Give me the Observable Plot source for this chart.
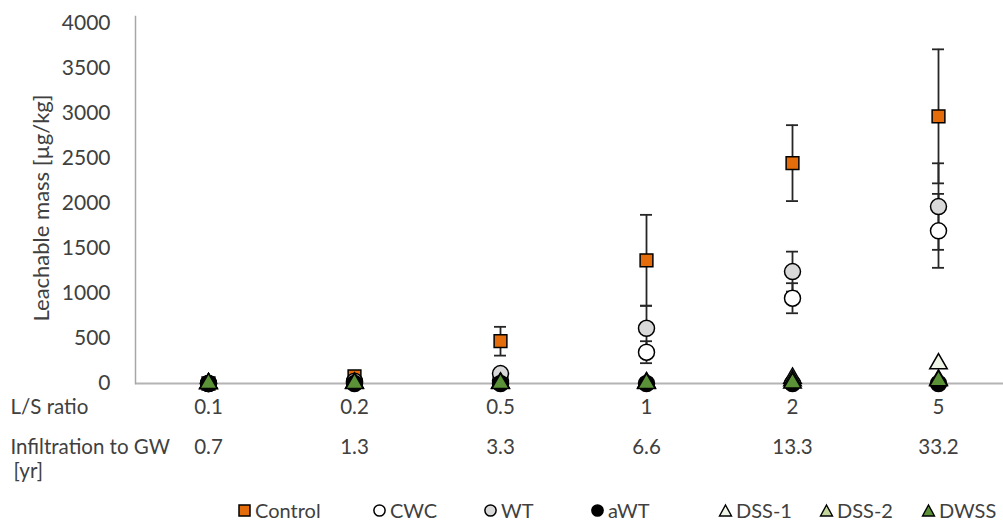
<!DOCTYPE html>
<html>
<head>
<meta charset="utf-8">
<script src="https://cdn.jsdelivr.net/npm/d3@7"></script>
<script src="https://cdn.jsdelivr.net/npm/@observablehq/plot@0.6"></script>
<style>
  body { margin: 0; background: #fff; overflow: hidden; font-family: Lato, "Open Sans", sans-serif; color: #404040; }
  #legend { position: relative; height: 30px; font-size: 20px; }
  .item { position: absolute; top: 0; display: flex; align-items: center; height: 30px; white-space: nowrap; }
  .item svg { margin-right: 3px; }
</style>
</head>
<body>
<div id="chart"></div>
<div id="legend"></div>
<script>
// ---- data ----
const categories = ["0.1", "0.2", "0.5", "1", "2", "5"];          // L/S ratio
const infiltration = ["0.7", "1.3", "3.3", "6.6", "13.3", "33.2"]; // Infiltration to GW [yr]
const yTicks = [0, 500, 1000, 1500, 2000, 2500, 3000, 3500, 4000];
const seriesNames = ["Control", "CWC", "WT", "aWT", "DSS-1", "DSS-2", "DWSS"];

const control    = [0, 80, 470, 1370, 2450, 2970];
const controlErr = [0, 0, 160, 505, 422, 745];
const cwc        = [0, 15, 30, 348, 948, 1697];
const cwcErr     = [0, 0, 0, 122, 167, 411];
const wt         = [0, 25, 110, 614, 1244, 1967];
const wtErr      = [0, 0, 0, 250, 222, 481];
const awt        = [0, 0, 0, 0, 0, 0];
const dss1       = [0, 5, 5, 10, 60, 220];
const dss2       = [0, 5, 5, 5, 30, 40];
const dwss       = [0, 0, 0, 0, 5, 30];

const values = { "Control": control, "CWC": cwc, "WT": wt, "aWT": awt, "DSS-1": dss1, "DSS-2": dss2, "DWSS": dwss };
const errors = { "Control": controlErr, "CWC": cwcErr, "WT": wtErr };

// ---- styles ----
const styles = {
  "Control": { symbol: "square",   fill: "#e46c0a", r: 7.2 },
  "CWC":     { symbol: "circle",   fill: "#ffffff", r: 8 },
  "WT":      { symbol: "circle",   fill: "#d9d9d9", r: 8 },
  "aWT":     { symbol: "circle",   fill: "#000000", r: 8 },
  "DSS-1":   { symbol: "triangle", fill: "#eef4e6", r: 6.5 },
  "DSS-2":   { symbol: "triangle", fill: "#c3d69b", r: 6.5 },
  "DWSS":    { symbol: "triangle", fill: "#5b9137", r: 6.5 }
};

const rows = seriesNames.flatMap(s => categories.map((c, i) => ({
  series: s, cat: c, v: values[s][i], e: errors[s] ? errors[s][i] : 0
})));
const errRows = rows.filter(d => d.e > 0);
const labelRows = categories.map((c, i) => ({ cat: c, ls: c, inf: infiltration[i] }));

const ink = "#404040";
const errInk = "#262626";

const chart = Plot.plot({
  width: 1003,
  height: 495,
  marginLeft: 135,
  marginRight: 0,
  marginTop: 16,
  marginBottom: 112,
  style: { fontFamily: 'Lato, "Open Sans", sans-serif', fontSize: "20px", color: ink, background: "#fff" },
  x: { type: "band", domain: categories, range: [135, 1011], padding: 0, axis: null },
  y: { domain: [0, 4080], axis: null },
  marks: [
    Plot.ruleY([0], { stroke: "#b4b4b4", strokeWidth: 2 }),
    Plot.frame({ anchor: "left", stroke: "#a6a6a6", strokeWidth: 1.5 }),
    Plot.axisY({ ticks: yTicks, tickFormat: d => String(d), tickSize: 0, tickPadding: 25, fontSize: 21, fill: ink, label: null }),
    Plot.text(["Leachable mass [µg/kg]"], { frameAnchor: "left", text: d => d, textAnchor: "middle", rotate: -90, dx: -94, dy: 8, fontSize: 22, fill: ink }),
    // category rows
    Plot.text(labelRows, { x: "cat", text: "ls", frameAnchor: "bottom", dy: 30, fontSize: 20.5, fill: ink }),
    Plot.text(labelRows, { x: "cat", text: "inf", frameAnchor: "bottom", dy: 70, fontSize: 20.5, fill: ink }),
    Plot.text(["L/S ratio"], { frameAnchor: "bottom-left", text: d => d, textAnchor: "start", dx: -125, dy: 30, fontSize: 20.5, fill: ink }),
    Plot.text(["Infiltration to GW"], { frameAnchor: "bottom-left", text: d => d, textAnchor: "start", dx: -125, dy: 70, fontSize: 20.5, fill: ink }),
    Plot.text(["[yr]"], { frameAnchor: "bottom-left", text: d => d, textAnchor: "start", dx: -122, dy: 94, fontSize: 20.5, fill: ink }),
    // error bars
    Plot.ruleX(errRows, { x: "cat", y1: d => d.v - d.e, y2: d => d.v + d.e, stroke: errInk, strokeWidth: 1.8 }),
    Plot.tickY(errRows, { x: "cat", y: d => d.v + d.e, insetLeft: 67, insetRight: 67, stroke: errInk, strokeWidth: 1.8 }),
    Plot.tickY(errRows, { x: "cat", y: d => d.v - d.e, insetLeft: 67, insetRight: 67, stroke: errInk, strokeWidth: 1.8 }),
    // markers, in series order
    ...seriesNames.map(s => Plot.dot(rows.filter(d => d.series === s), {
      x: "cat", y: "v", symbol: styles[s].symbol, r: styles[s].r,
      fill: styles[s].fill, stroke: "#000", strokeWidth: 1.5
    }))
  ]
});
document.getElementById("chart").appendChild(chart);

// ---- legend ----
const legendLeft = { "Control": 237, "CWC": 372, "WT": 483, "aWT": 590, "DSS-1": 718, "DSS-2": 819, "DWSS": 921 };
function markerSvg(s) {
  const st = styles[s];
  let shape;
  if (st.symbol === "square") shape = `<rect x="2" y="2" width="11" height="11" fill="${st.fill}" stroke="#000" stroke-width="1.5"/>`;
  else if (st.symbol === "circle") shape = `<circle cx="7.5" cy="7.5" r="5.6" fill="${st.fill}" stroke="#000" stroke-width="1.5"/>`;
  else shape = `<polygon points="7.5,2 13.5,13 1.5,13" fill="${st.fill}" stroke="#000" stroke-width="1.4"/>`;
  return `<svg width="15" height="15" viewBox="0 0 15 15">${shape}</svg>`;
}
const legend = document.getElementById("legend");
for (const s of seriesNames) {
  const el = document.createElement("div");
  el.className = "item";
  el.style.left = legendLeft[s] + "px";
  el.innerHTML = markerSvg(s) + `<span>${s}</span>`;
  legend.appendChild(el);
}
</script>
</body>
</html>
